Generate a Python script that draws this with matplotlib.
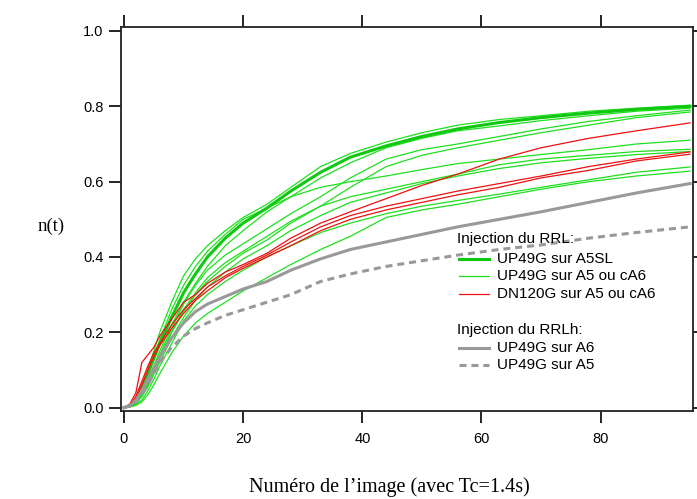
import matplotlib
matplotlib.use("Agg")
import matplotlib.pyplot as plt
from matplotlib.lines import Line2D

# image number (x axis)
image = [0, 1, 2, 3, 4, 5, 6, 8, 10, 12, 14, 17, 20, 24, 28, 33, 38, 44, 50, 56, 63, 70, 78, 86, 95]

# RRL injection, UP49G on A5SL (thick green)
a5sl = [0, 0.005, 0.02, 0.05, 0.09, 0.13, 0.17, 0.24, 0.305, 0.355, 0.40, 0.45, 0.49, 0.53, 0.575,
        0.625, 0.665, 0.695, 0.72, 0.74, 0.757, 0.77, 0.782, 0.792, 0.80]

# RRL injection, UP49G on A5 or cA6 (thin green)
g1 = [0, 0.005, 0.02, 0.06, 0.10, 0.15, 0.20, 0.28, 0.35, 0.395, 0.43, 0.47, 0.505, 0.54, 0.585,
      0.64, 0.675, 0.705, 0.73, 0.75, 0.765, 0.775, 0.787, 0.795, 0.803]
g2 = [0, 0.003, 0.015, 0.04, 0.075, 0.11, 0.15, 0.22, 0.28, 0.33, 0.375, 0.43, 0.47, 0.52, 0.56,
      0.61, 0.65, 0.69, 0.715, 0.735, 0.748, 0.762, 0.775, 0.787, 0.795]
g3 = [0, 0.003, 0.012, 0.035, 0.065, 0.10, 0.14, 0.21, 0.275, 0.325, 0.365, 0.405, 0.435, 0.475, 0.515,
      0.56, 0.61, 0.66, 0.685, 0.70, 0.72, 0.74, 0.76, 0.775, 0.79]
g4 = [0, 0.003, 0.01, 0.03, 0.06, 0.09, 0.13, 0.20, 0.26, 0.305, 0.345, 0.385, 0.415, 0.455, 0.495,
      0.535, 0.585, 0.64, 0.67, 0.69, 0.71, 0.73, 0.75, 0.77, 0.785]
g5 = [0, 0.005, 0.02, 0.055, 0.095, 0.14, 0.18, 0.26, 0.325, 0.375, 0.415, 0.46, 0.50, 0.53, 0.56,
      0.585, 0.60, 0.615, 0.632, 0.648, 0.66, 0.672, 0.685, 0.70, 0.71]
g6 = [0, 0.003, 0.012, 0.035, 0.065, 0.10, 0.135, 0.20, 0.255, 0.30, 0.335, 0.375, 0.41, 0.445, 0.49,
      0.535, 0.56, 0.58, 0.60, 0.62, 0.645, 0.66, 0.67, 0.68, 0.686]
g7 = [0, 0.003, 0.01, 0.03, 0.055, 0.09, 0.12, 0.185, 0.24, 0.285, 0.32, 0.36, 0.395, 0.43, 0.47,
      0.51, 0.545, 0.57, 0.595, 0.615, 0.635, 0.65, 0.662, 0.672, 0.68]
g8 = [0, 0.002, 0.008, 0.02, 0.045, 0.075, 0.11, 0.17, 0.23, 0.27, 0.30, 0.335, 0.365, 0.40, 0.43,
      0.465, 0.49, 0.515, 0.535, 0.55, 0.567, 0.585, 0.605, 0.625, 0.639]
g9 = [0, 0.002, 0.006, 0.015, 0.035, 0.06, 0.09, 0.145, 0.19, 0.225, 0.25, 0.28, 0.31, 0.345, 0.38,
      0.42, 0.455, 0.505, 0.525, 0.54, 0.56, 0.58, 0.60, 0.615, 0.628]

# RRL injection, DN120G on A5 or cA6 (red)
r1 = [0, 0.01, 0.04, 0.12, 0.14, 0.16, 0.19, 0.235, 0.28, 0.30, 0.33, 0.36, 0.38, 0.41, 0.45,
      0.49, 0.52, 0.555, 0.59, 0.62, 0.66, 0.69, 0.715, 0.735, 0.756]
r2 = [0, 0.005, 0.03, 0.07, 0.11, 0.145, 0.17, 0.22, 0.26, 0.29, 0.32, 0.35, 0.375, 0.405, 0.44,
      0.48, 0.51, 0.535, 0.555, 0.575, 0.595, 0.615, 0.64, 0.66, 0.679]
r3 = [0, 0.005, 0.025, 0.06, 0.10, 0.135, 0.165, 0.21, 0.25, 0.285, 0.31, 0.345, 0.37, 0.40, 0.43,
      0.47, 0.50, 0.525, 0.545, 0.565, 0.585, 0.61, 0.63, 0.655, 0.673]

# RRLh injection (gray)
rrlh_a6 = [0, 0.005, 0.02, 0.045, 0.075, 0.105, 0.135, 0.185, 0.225, 0.255, 0.275, 0.295, 0.315, 0.335, 0.365,
           0.395, 0.42, 0.44, 0.46, 0.48, 0.50, 0.52, 0.545, 0.57, 0.595]
rrlh_a5 = [0, 0.005, 0.015, 0.035, 0.06, 0.09, 0.12, 0.16, 0.19, 0.21, 0.225, 0.245, 0.26, 0.28, 0.30,
           0.335, 0.355, 0.375, 0.39, 0.405, 0.42, 0.432, 0.45, 0.465, 0.48]

green = "#1ee01e"
green_dark = "#10c810"
red = "#ee1111"
gray = "#999999"
dash = (0, (2.3, 1.6))

fig = plt.figure(figsize=(6.97, 4.99), dpi=100)
ax = fig.add_axes([0.1736, 0.177, 0.8207, 0.7695])

for g in [g1, g2, g3, g4, g5, g6, g7, g8, g9]:
    ax.plot(image, g, color=green, lw=0.9)
ax.plot(image, a5sl, color=green_dark, lw=2.2)
for r in [r1, r2, r3]:
    ax.plot(image, r, color=red, lw=0.9)
ax.plot(image, rrlh_a6, color=gray, lw=2.2)
ax.plot(image, rrlh_a5, color=gray, lw=2.2, linestyle=dash)

ax.set_xlim(-0.5, 95.5)
ax.set_ylim(-0.008, 1.0114)
ax.set_xticks([0, 20, 40, 60, 80])
ax.set_yticks([0.0, 0.2, 0.4, 0.6, 0.8, 1.0])
ax.set_yticklabels(["0.0", "0.2", "0.4", "0.6", "0.8", "1.0"])
ax.tick_params(direction="out", top=True, right=True, labelsize=10.5, width=1.2)
ax.tick_params(axis="y", length=8.5, pad=4)
ax.tick_params(axis="x", length=8.5, pad=7)
for lab in ax.get_xticklabels() + ax.get_yticklabels():
    lab.set_family("Liberation Sans")
for s in ax.spines.values():
    s.set_linewidth(1.3)
    s.set_color("#222222")

# legend drawn by hand, Igor style
lx0, lx1, tx = 0.591, 0.643, 0.657
font = dict(family="Liberation Sans", fontsize=11, va="center", transform=ax.transAxes)
ax.text(0.587, 0.446, "Injection du RRL:", **font)
ax.text(0.587, 0.209, "Injection du RRLh:", **font)
entries = [
    (0.394, "UP49G sur A5SL", green_dark, 2.2, "-"),
    (0.351, "UP49G sur A5 ou cA6", green, 0.9, "-"),
    (0.304, "DN120G sur A5 ou cA6", red, 0.9, "-"),
    (0.163, "UP49G sur A6", gray, 2.2, "-"),
    (0.120, "UP49G sur A5", gray, 2.2, dash),
]
for y, label, c, lw, ls in entries:
    ax.add_line(Line2D([lx0, lx1], [y, y], color=c, lw=lw, linestyle=ls, transform=ax.transAxes))
    ax.text(tx, y, label, **font)

fig.text(0.559, 0.024, "Numéro de l\u2019image (avec Tc=1.4s)", family="Liberation Serif",
         fontsize=14.5, ha="center", va="center")
fig.text(0.074, 0.547, "n(t)", family="Liberation Serif", fontsize=13.5, ha="center", va="center")

fig.savefig("out.png", dpi=100)
